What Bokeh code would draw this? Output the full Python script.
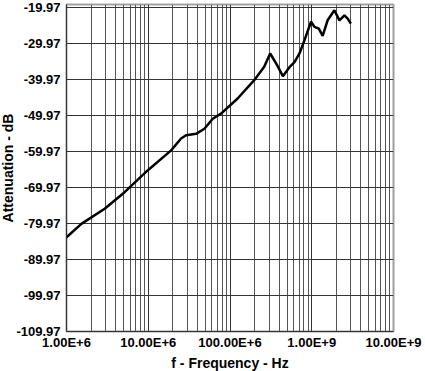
from bokeh.plotting import figure
from bokeh.models import FixedTicker, Range1d, PrintfTickFormatter, Title
from bokeh.embed import file_html
from bokeh.resources import INLINE

# Data (frequency in Hz, attenuation in dB)
freq_hz = [1.00e6, 1.52e6, 2.93e6, 5.14e6, 9.9e6, 1.905e7, 2.52e7, 2.90e7, 3.85e7,
           4.86e7, 6.15e7, 7.77e7, 1.24e8, 1.98e8, 2.62e8, 3.10e8, 3.74e8, 4.43e8,
           5.34e8, 6.15e8, 7.08e8, 8.15e8, 9.8e8, 1.08e9, 1.22e9, 1.36e9, 1.57e9,
           1.72e9, 1.89e9, 2.18e9, 2.51e9, 2.75e9, 3.01e9]
atten_db = [-83.8, -80.1, -75.9, -71.3, -65.2, -59.7, -56.4, -55.5, -55.1,
            -53.7, -50.9, -49.5, -45.3, -40.2, -36.5, -32.8, -35.9, -39.1,
            -36.6, -35.2, -32.8, -29.1, -24.0, -25.4, -25.9, -27.9, -23.5,
            -22.2, -20.8, -23.6, -22.2, -23.1, -24.5]

x_ticks = [1e6, 1e7, 1e8, 1e9, 1e10]
x_tick_labels = ["1.00E+6", "10.00E+6", "100.00E+6", "1.00E+9", "10.00E+9"]
y_ticks = [-109.97, -99.97, -89.97, -79.97, -69.97, -59.97, -49.97, -39.97, -29.97, -19.97]
x_title = "f - Frequency - Hz"
y_title = "Attenuation - dB"

x_minor = [m * d for d in x_ticks[:-1] for m in range(2, 10)]

p = figure(width=425, height=371, x_axis_type="log",
           x_range=Range1d(1e6, 1e10), y_range=Range1d(-109.97, -19.2),
           output_backend="svg", toolbar_location=None,
           min_border_left=65, min_border_right=32, min_border_top=4, min_border_bottom=40)

p.line(freq_hz, atten_db, line_color="black", line_width=2.5)

font = "Liberation Sans"
p.xaxis.ticker = FixedTicker(ticks=x_ticks, minor_ticks=x_minor)
p.xaxis.major_label_overrides = {t: l for t, l in zip(x_ticks, x_tick_labels)}
p.yaxis.ticker = FixedTicker(ticks=y_ticks)
p.yaxis.formatter = PrintfTickFormatter(format="%.2f")

for ax in (p.xaxis, p.yaxis):
    ax.major_label_text_font = font
    ax.major_label_text_font_style = "bold"
    ax.major_label_text_font_size = "13px"
    ax.major_label_text_color = "black"
    ax.major_tick_out = 0
    ax.major_tick_in = 0
    ax.minor_tick_out = 0
    ax.minor_tick_in = 0
    ax.axis_line_color = "#333333"
    ax.axis_line_width = 1

p.xaxis.major_label_standoff = 3
p.yaxis.major_label_standoff = 6

p.add_layout(Title(text=x_title, align="center", offset=6, standoff=0,
                   text_font=font, text_font_style="bold", text_font_size="14px",
                   text_color="black"), "below")
p.add_layout(Title(text=y_title, align="center", offset=-10, standoff=-5,
                   text_font=font, text_font_style="bold", text_font_size="14px",
                   text_color="black"), "left")

p.xgrid.grid_line_color = "#333333"
p.xgrid.minor_grid_line_color = "#555555"
p.ygrid.grid_line_color = "#333333"
p.outline_line_color = "#a0a0a0"
p.outline_line_width = 2

open("out.html", "w").write(file_html(p, INLINE))
